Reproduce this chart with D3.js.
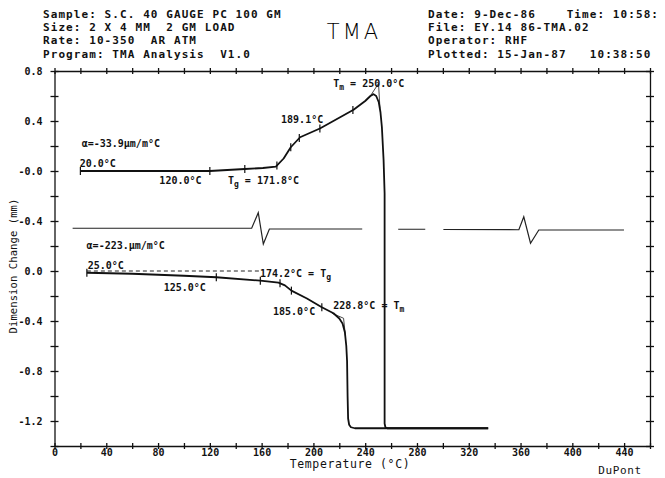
<!DOCTYPE html>
<html>
<head>
<meta charset="utf-8">
<script src="https://cdn.jsdelivr.net/npm/d3@7"></script>
<style>
  body { margin: 0; background: #fff; }
  svg { display: block; }
  .mono { font-family: "DejaVu Sans Mono", monospace; fill: #111; }
  .axis path, .axis line { stroke: #111; stroke-width: 1.3; }
  .axis text { font-family: "DejaVu Sans Mono", monospace; font-size: 10px; font-weight: bold; fill: #111; }
</style>
</head>
<body>
<div id="chart"></div>
<script>
// header text
var headerLeft = ['Sample: S.C. 40 GAUGE PC 100 GM', 'Size: 2 X 4 MM  2 GM LOAD', 'Rate: 10-350  AR ATM', 'Program: TMA Analysis  V1.0']
var headerRight = ['Date: 9-Dec-86    Time: 10:58:', 'File: EY.14 86-TMA.02', 'Operator: RHF', 'Plotted: 15-Jan-87   10:38:50']

// axis ticks
var xTickValues = [0, 40, 80, 120, 160, 200, 240, 280, 320, 360, 400, 440]
var xMinorTicks = [0, 20, 40, 60, 80, 100, 120, 140, 160, 180, 200, 220, 240, 260, 280, 300, 320, 340, 360, 380, 400, 420, 440, 460]
var yTickValues = [0.8, 0.4, 0, -0.4, -0.8, -1.2, -1.6, -2.0]
var yTickLabels = ['0.8', '0.4', '-0.0', '-0.4', '0.0', '-0.4', '-0.8', '-1.2']
var yMinorTicks = [0.8, 0.6, 0.4, 0.2, 0, -0.2, -0.4, -0.6, -0.8, -1.0, -1.2, -1.4, -1.6, -1.8, -2.0, -2.2]

// upper trace (temperature, dimension change)
var upperT = [20, 60, 120, 147, 161, 171, 177, 182.5, 189.7, 205, 213, 231, 240, 244, 246.4, 248.5, 250.5, 251.8, 252.9, 254.2, 255, 255, 255.6, 257, 335]
var upperV = [0, 0, 0, 0.016, 0.024, 0.035, 0.1, 0.19, 0.27, 0.34, 0.386, 0.49, 0.56, 0.6, 0.615, 0.6, 0.55, 0.47, 0.35, 0.09, -0.18, -2.02, -2.05, -2.058, -2.058]
var upperMarks = [20, 120, 147, 171.8, 182.5, 189.1, 205, 230.5]

// lower trace
var lowerT = [25, 60, 100, 125, 159, 173, 178, 183, 195, 206.5, 215.5, 220, 222.5, 224.3, 225.4, 226, 226.4, 226.8, 227.6, 229, 232, 335]
var lowerV = [-0.814, -0.822, -0.838, -0.85, -0.877, -0.893, -0.915, -0.957, -1.02, -1.09, -1.138, -1.18, -1.22, -1.29, -1.4, -1.52, -1.8, -1.98, -2.03, -2.05, -2.058, -2.058]
var lowerMarks = [25, 125, 159, 174.2, 183, 206.5]

// derivative trace, null = pen lifted
var derivT = [14, 152.3, 157.4, 161.3, 166, 237.7, 251, 265.5, 286.4, 293, 300.4, 358.7, 362.5, 367.7, 374.1, 439.9]
var derivV = [-0.458, -0.458, -0.334, -0.584, -0.464, -0.464, null, -0.466, -0.466, null, -0.468, -0.47, -0.366, -0.578, -0.472, -0.472]

// annotations: text pieces, anchor temperature and value
var annotations = [
  { t: 21, v: 0.192, parts: [['\u03b1=-33.9\u03bcm/m\u00b0C']] },
  { t: 19.5, v: 0.032, parts: [['20.0\u00b0C']] },
  { t: 81, v: -0.104, parts: [['120.0\u00b0C']] },
  { t: 134, v: -0.104, parts: [['T'], ['g', 'sub'], [' = 171.8\u00b0C']] },
  { t: 175, v: 0.384, parts: [['189.1\u00b0C']] },
  { t: 215.3, v: 0.67, parts: [['T'], ['m', 'sub'], [' = 250.0\u00b0C']] },
  { t: 24.8, v: -0.624, parts: [['\u03b1=-223.\u03bcm/m\u00b0C']] },
  { t: 25.6, v: -0.784, parts: [['25.0\u00b0C']] },
  { t: 84.4, v: -0.96, parts: [['125.0\u00b0C']] },
  { t: 158.7, v: -0.848, parts: [['174.2\u00b0C = T'], ['g', 'sub']] },
  { t: 168.8, v: -1.152, parts: [['185.0\u00b0C']] },
  { t: 215.3, v: -1.104, parts: [['228.8\u00b0C = T'], ['m', 'sub']] }
]

var width = 665,
    height = 478

var svg = d3.select('#chart').append('svg')
    .attr('width', width)
    .attr('height', height)

var x = d3.scaleLinear()
    .domain([0, 460])
    .range([54.5, 650])

var y = d3.scaleLinear()
    .domain([-2.2, 0.8])
    .range([446, 71])

// header
svg.selectAll('.head-left')
  .data(headerLeft)
  .enter().append('text')
  .attr('class', 'mono head-left')
  .attr('x', 43)
  .attr('y', function (d, i) { return 17.5 + i * 13.4 })
  .attr('font-size', 11)
  .attr('font-weight', 'bold')
  .attr('letter-spacing', 1.08)
  .style('white-space', 'pre')
  .text(function (d) { return d })

svg.selectAll('.head-right')
  .data(headerRight)
  .enter().append('text')
  .attr('class', 'mono head-right')
  .attr('x', 428)
  .attr('y', function (d, i) { return 17.5 + i * 13.4 })
  .attr('font-size', 11)
  .attr('font-weight', 'bold')
  .attr('letter-spacing', 1.08)
  .style('white-space', 'pre')
  .text(function (d) { return d })

svg.append('text')
  .text('TMA')
  .attr('x', 354)
  .attr('y', 38.5)
  .attr('text-anchor', 'middle')
  .attr('font-family', '"DejaVu Sans", sans-serif')
  .attr('font-weight', 200)
  .attr('font-size', 21)
  .attr('letter-spacing', 3)
  .attr('fill', '#000')

// axes, ticks crossing the line like a plotter "+"
var labelFor = function (d) {
  var i = yTickValues.findIndex(function (v) { return Math.abs(v - d) < 1e-6 })
  return i < 0 ? '' : yTickLabels[i]
}

var leftAxis = svg.append('g')
  .attr('class', 'axis')
  .attr('transform', 'translate(' + x(0) + ',0)')
  .call(d3.axisLeft(y).tickValues(yMinorTicks).tickFormat(labelFor).tickSizeOuter(0).tickPadding(6))
leftAxis.selectAll('.tick line').attr('x1', 4).attr('x2', -4)

var rightAxis = svg.append('g')
  .attr('class', 'axis')
  .attr('transform', 'translate(' + x(460) + ',0)')
  .call(d3.axisRight(y).tickValues(yMinorTicks).tickFormat('').tickSizeOuter(0))
rightAxis.selectAll('.tick line').attr('x1', -4).attr('x2', 4)

var bottomAxis = svg.append('g')
  .attr('class', 'axis')
  .attr('transform', 'translate(0,' + y(-2.2) + ')')
  .call(d3.axisBottom(x).tickValues(xMinorTicks).tickFormat(function (d) {
    return xTickValues.indexOf(d) < 0 ? '' : d
  }).tickSizeOuter(0))
bottomAxis.selectAll('.tick line').attr('y1', -3).attr('y2', 3)
bottomAxis.selectAll('.tick text').attr('y', 3)

var topAxis = svg.append('g')
  .attr('class', 'axis')
  .attr('transform', 'translate(0,' + y(0.8) + ')')
  .call(d3.axisTop(x).tickValues(xMinorTicks).tickFormat('').tickSizeOuter(0))
topAxis.selectAll('.tick line').attr('y1', 3).attr('y2', -3)

// axis titles
svg.append('text')
  .attr('class', 'mono')
  .text('Temperature (\u00b0C)')
  .attr('x', 350)
  .attr('y', 468)
  .attr('text-anchor', 'middle')
  .attr('font-size', 11.5)
  .attr('letter-spacing', 0.6)

svg.append('text')
  .attr('class', 'mono')
  .text('Dimension Change (mm)')
  .attr('transform', 'translate(17,266) rotate(-90)')
  .attr('text-anchor', 'middle')
  .attr('font-size', 10.5)
  .attr('letter-spacing', 0.1)

svg.append('text')
  .attr('class', 'mono')
  .text('DuPont')
  .attr('x', 620)
  .attr('y', 474)
  .attr('text-anchor', 'middle')
  .attr('font-size', 11)
  .attr('letter-spacing', 0.6)

// traces
var line = d3.line()
  .defined(function (d) { return d[1] != null })
  .x(function (d) { return x(d[0]) })
  .y(function (d) { return y(d[1]) })

var zip = function (ts, vs) { return ts.map(function (t, i) { return [t, vs[i]] }) }

svg.append('path')
  .datum(zip(derivT, derivV))
  .attr('d', line)
  .attr('fill', 'none')
  .attr('stroke', '#222')
  .attr('stroke-width', 1.2)

// extrapolated baseline on the lower trace
svg.append('path')
  .datum([[lowerT[0], -0.8], [159, -0.8]])
  .attr('d', line)
  .attr('fill', 'none')
  .attr('stroke', '#222')
  .attr('stroke-width', 1)
  .attr('stroke-dasharray', '4,3')

// tangent construction lines at the melting points
var construct = [
  [[243, 0.585], [250.3, 0.7], [251.4, 0.5]],
  [[214.3, -1.138], [223.3, -1.178], [224.8, -1.326]]
]
svg.selectAll('.construct')
  .data(construct)
  .enter().append('path')
  .attr('class', 'construct')
  .attr('d', line)
  .attr('fill', 'none')
  .attr('stroke', '#333')
  .attr('stroke-width', 0.9)

svg.append('path')
  .datum(zip(upperT, upperV))
  .attr('d', line)
  .attr('fill', 'none')
  .attr('stroke', '#111')
  .attr('stroke-width', 1.8)
  .attr('stroke-linejoin', 'round')

svg.append('path')
  .datum(zip(lowerT, lowerV))
  .attr('d', line)
  .attr('fill', 'none')
  .attr('stroke', '#111')
  .attr('stroke-width', 1.8)
  .attr('stroke-linejoin', 'round')

// analysis marks on the traces
var valueAt = function (ts, vs, t) {
  var i = d3.bisectLeft(ts, t)
  if (i <= 0) return vs[0]
  var k = (t - ts[i - 1]) / (ts[i] - ts[i - 1])
  return vs[i - 1] + k * (vs[i] - vs[i - 1])
}

var marks = upperMarks.map(function (t) { return [t, valueAt(upperT, upperV, t)] })
  .concat(lowerMarks.map(function (t) { return [t, valueAt(lowerT, lowerV, t)] }))

svg.selectAll('.mark')
  .data(marks)
  .enter().append('line')
  .attr('class', 'mark')
  .attr('x1', function (d) { return x(d[0]) })
  .attr('x2', function (d) { return x(d[0]) })
  .attr('y1', function (d) { return y(d[1]) - 4 })
  .attr('y2', function (d) { return y(d[1]) + 4 })
  .attr('stroke', '#111')
  .attr('stroke-width', 1.2)

// annotation labels
var labels = svg.selectAll('.anno')
  .data(annotations)
  .enter().append('text')
  .attr('class', 'mono anno')
  .attr('x', function (d) { return x(d.t) })
  .attr('y', function (d) { return y(d.v) })
  .attr('font-size', 10)
  .attr('font-weight', 'bold')
  .style('white-space', 'pre')

labels.each(function (d) {
  var el = d3.select(this)
  var shifted = false
  d.parts.forEach(function (p) {
    var span = el.append('tspan').text(p[0])
    if (p[1] === 'sub') {
      span.attr('dy', 3).attr('font-size', 8)
      shifted = true
    } else if (shifted) {
      span.attr('dy', -3)
      shifted = false
    }
  })
})
</script>
</body>
</html>
